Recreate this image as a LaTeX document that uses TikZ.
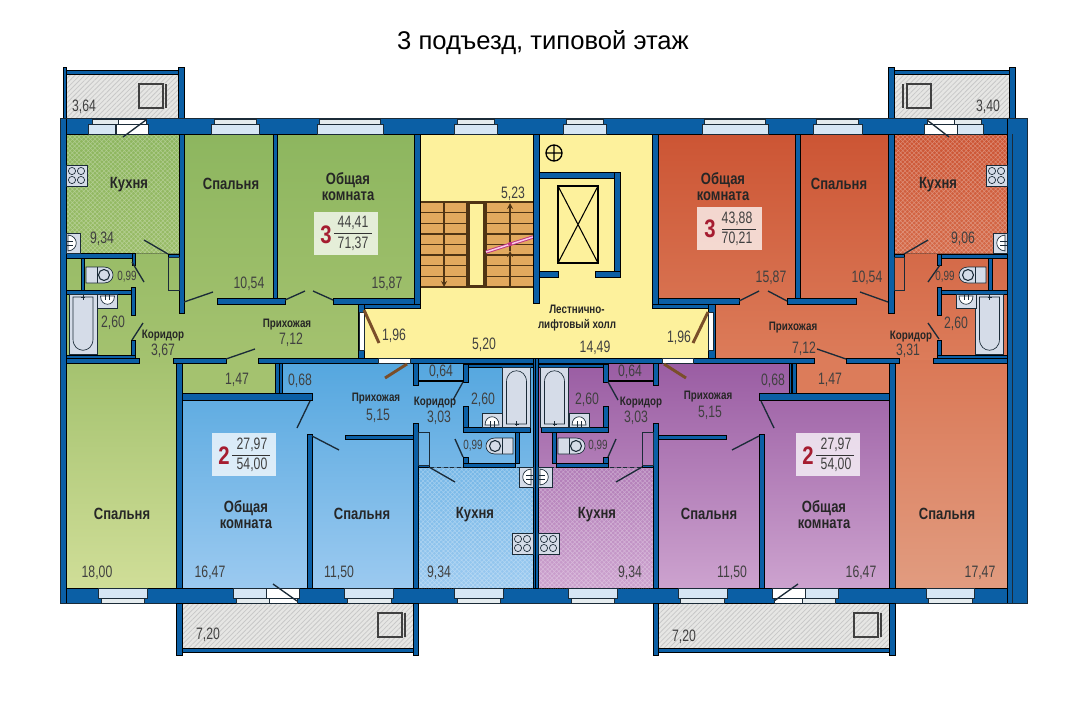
\documentclass[tikz,border=0pt]{standalone}
\usepackage{fontspec}
\setmainfont{Liberation Sans}
\newfontfamily\narrowfont[FakeStretch=0.8]{Liberation Sans}
\newfontfamily\areafont[FakeStretch=0.74]{Liberation Sans}
\usetikzlibrary{patterns.meta}
\definecolor{wallblue}{HTML}{0B5FA5}
\definecolor{linedark}{HTML}{1B2B38}
\definecolor{hallyellow}{HTML}{FDF19C}
\definecolor{stairorange}{HTML}{E2A95E}
\definecolor{stairbrown}{HTML}{4F3414}
\definecolor{doorbrown}{HTML}{7A4E2A}
\definecolor{glassblue}{HTML}{D6E6F4}
\definecolor{glassgray}{HTML}{E4EBEE}
\definecolor{fixturegray}{HTML}{D5DCE8}
\definecolor{balconygray}{HTML}{E6E6E4}
\definecolor{balconyline}{HTML}{C8C8C8}
\definecolor{flatred}{HTML}{A51C30}
\definecolor{greentop}{HTML}{8DB65F}
\definecolor{greenmid}{HTML}{A4C26F}
\definecolor{greenlow}{HTML}{D0DE98}
\definecolor{redtop}{HTML}{CC5534}
\definecolor{redmid}{HTML}{DC7C5A}
\definecolor{redlow}{HTML}{E19C80}
\definecolor{bluetop}{HTML}{55A7DF}
\definecolor{bluelow}{HTML}{9CCAF0}
\definecolor{violettop}{HTML}{9A5DA3}
\definecolor{violetlow}{HTML}{CDA3CF}
\tikzset{
  wall/.style={fill=wallblue},
  doorline/.style={draw=linedark, line width=1pt},
  brownleaf/.style={draw=doorbrown, line width=2.2pt},
  glass/.style={fill=glassblue, draw=linedark, line width=0.3pt},
  glasstop/.style={fill=glassgray, draw=linedark, line width=0.3pt},
  opening/.style={fill=white, draw=linedark, line width=0.3pt},
  fixture/.style={fill=fixturegray, draw=linedark, line width=0.5pt},
  kitchen/.style={opacity=0.3, pattern={Hatch[angle=45,distance=2.4pt,line width=0.4pt]}, pattern color=white},
  balcony/.style={preaction={fill=balconygray}, pattern={Lines[angle=45,distance=2.6pt,line width=0.6pt]}, pattern color=balconyline},
  room/.style={font=\narrowfont\bfseries\fontsize{12.2pt}{11.8pt}\selectfont, text=black!85, inner sep=0pt, align=center, yshift=-1pt},
  hallname/.style={font=\narrowfont\bfseries\fontsize{9.2pt}{11pt}\selectfont, text=black!85, inner sep=0pt, align=center},
  area/.style={font=\areafont\fontsize{12.4pt}{13pt}\selectfont, text=black!75, inner sep=0pt},
  smallarea/.style={font=\areafont\fontsize{10pt}{12pt}\selectfont, text=black!75, inner sep=0pt},
  flatbox/.style={fill=white, fill opacity=0.75},
  flatnum/.style={font=\narrowfont\bfseries\fontsize{19pt}{20pt}\selectfont, text=flatred, inner sep=0pt},
  arrow/.style={draw=stairbrown, line width=1pt, ->, >=stealth}
}
% fixtures
\newcommand{\bathtub}[3]{\begin{scope}[shift={(#1,#2)},yscale=#3]
  \draw [fixture] (-14,0) rectangle (14,60);
  \draw [draw=linedark, line width=0.5pt] (-10,3) -- (-10,45) .. controls (-10,60) and (10,60) .. (10,45) -- (10,3) -- cycle;
  \draw [draw=linedark, line width=0.5pt] (0,1) -- (0,6) (-2,3) -- (2,3);
\end{scope}}
\newcommand{\toilet}[3]{\begin{scope}[shift={(#1,#2)},xscale=#3]
  \draw [fixture] (0,-8) -- (18,-8) .. controls (30,-8) and (30,8) .. (18,8) -- (0,8) -- cycle;
  \draw [draw=linedark, line width=0.5pt] (11,-8) -- (11,8);
  \draw [draw=linedark, line width=0.8pt, fill=fixturegray] (18,0) circle (5.5);
\end{scope}}
\newcommand{\washbasin}[3]{\begin{scope}[shift={(#1,#2)},yscale=#3]
  \draw [fixture] (-10,0) rectangle (10,14);
  \draw [fill=white, draw=linedark, line width=0.5pt] (-7,2) .. controls (-7,13) and (7,13) .. (7,2) -- cycle;
  \draw [draw=linedark, line width=0.5pt] (-2,0) -- (-2,6) (2,0) -- (2,6);
\end{scope}}
\newcommand{\cooker}[3]{\begin{scope}[shift={(#1,#2)},xscale=#3]
  \draw [fixture] (0,0) rectangle (21,21);
  \foreach \cx in {6,15} \foreach \cy in {6,15} \draw [draw=linedark, line width=0.5pt] (\cx,\cy) circle (3.6);
\end{scope}}
\newcommand{\kitchensink}[3]{\begin{scope}[shift={(#1,#2)},xscale=#3]
  \draw [fixture] (0,0) rectangle (14,20);
  \draw [fill=white, draw=linedark, line width=0.5pt] (2,2) .. controls (13,3) and (13,17) .. (2,18) -- cycle;
  \draw [draw=linedark, line width=0.5pt] (0,8) -- (7,8) (0,12) -- (7,12);
\end{scope}}
\newcommand{\planter}[3]{%
  \draw [draw=black!75, line width=0.9pt] (#1,#2) rectangle ++(24,24);
  \draw [draw=black!75, line width=0.9pt] (#3,#2) -- ++(0,24);
}
% lower half, drawn twice
\newcommand{\lowerhalf}{
  \draw [kitchen] (418,467) rectangle (533,588);
  \draw [draw=linedark, line width=0.3pt, densely dashed] (418,588) -- (418,467) -- (533,467);
  \draw [balcony] (182,603) rectangle (413,648);
  \foreach \xa/\ya/\xb/\yb in {176/363/182/588, 176/603/182/655, 182/648/413/652, 413/603/418/655,
    182/393/312/400, 275/363/279/393, 279.6/363/282/393, 307/434/312/588, 345/435/413/439,
    413/423/418/588, 413/363/418/385, 533/358/536/588, 463/364/468/382, 468/364/533/367,
    418/380/463/381, 463/406/468/432, 463/427/530/432, 515/432/519/463, 463/457/468/467,
    463/463/515/467, 418/465/429/467}
    \draw [wall] (\xa,\ya) rectangle (\xb,\yb);
  \draw [draw=linedark, line width=0.4pt] (418,432) rectangle (429,465);
  \foreach \xa/\xb/\xc/\xd in {233/266/236/269, 344/393/347/391, 454/503/457/500} {
    \draw [glass] (\xa,588) rectangle (\xb,598);
    \draw [glasstop] (\xc,598) rectangle (\xd,603);
  }
  \draw [opening] (266,588) rectangle (299,598);
  \draw [opening] (269,598) rectangle (297,603);
  \draw [doorline] (273,584) -- (297,601);
  \draw [doorline] (310,401) -- (297,428);
  \draw [doorline] (312,436) -- (339,450);
  \draw [doorline] (429,467) -- (455,482);
  \draw [doorline] (463,382) -- (453,400);
  \draw [doorline] (463,457) -- (455,439);
  \draw [brownleaf] (407,364) -- (385,378);
  \bathtub{516.5}{427}{-1}
  \washbasin{492}{427}{-1}
  \toilet{513}{446}{-1}
  \kitchensink{533}{467}{-1}
  \cooker{533}{533}{-1}
}
\begin{document}
\begin{tikzpicture}[x=0.75pt,y=-0.75pt]
\useasboundingbox (0,0) rectangle (1087,714);
\node (title) at (543,43) {\fontsize{19.2pt}{22pt}\selectfont 3 подъезд, типовой этаж};
% room colours
\shade [top color=greentop, bottom color=greenmid] (66,134) rectangle (416,360);
\shade [top color=greenmid, bottom color=greenlow] (66,360) rectangle (278,590);
\shade [top color=redtop, bottom color=redmid] (656,134) rectangle (1008,360);
\shade [top color=bluetop, bottom color=bluelow] (182,363) rectangle (535.5,590);
\shade [top color=violettop, bottom color=violetlow] (535.5,363) rectangle (889,590);
\shade [top color=redmid!90!redtop, bottom color=redlow] (892,360) rectangle (1008,590);
\fill [greenmid] (182,360) rectangle (278,393);
\fill [redmid] (793,360) rectangle (892,393);
\draw [fill=hallyellow, draw=linedark, line width=0.4pt] (420,134) -- (652,134) -- (652,307) -- (708,307) -- (708,358) -- (364,358) -- (364,307) -- (420,307) -- cycle;
% kitchens
\draw [kitchen] (66,134) rectangle (180,253);
\draw [kitchen] (894,134) rectangle (1007,253);
% balconies
\draw [balcony] (66,74) rectangle (178,118);
\draw [balcony] (894,74) rectangle (1009,118);
\draw [balcony] (658,603) rectangle (891,648);
\planter{139}{84}{166}
\planter{907}{84}{903}
% stairs
\fill [stairorange] (420,202) rectangle (533,287);
\foreach \i in {0,...,8} {
  \draw [draw=stairbrown, line width=1pt] (420,202+\i*10.62) -- (467,202+\i*10.62);
  \draw [draw=stairbrown, line width=1pt] (486,202+\i*10.62) -- (533,202+\i*10.62);
}
\draw [fill=hallyellow, draw=stairbrown, line width=1.2pt] (469,203) rectangle (484,286);
\draw [draw=stairbrown, line width=1pt] (467,202) rectangle (486,287);
\draw [arrow] (444,202) -- (444,287);
\draw [arrow] (510,287) -- (510,251);
\draw [arrow] (510,251) -- (510,203);
\draw [draw=magenta!75!black, double=magenta!20, line width=0.7pt, double distance=1.1pt] (486,252) -- (533,237);
\fill [magenta!75!black] (510,244) circle (2);
% lift
\draw [draw=black, line width=1pt] (558,186) rectangle (598,263);
\draw [draw=black, line width=0.8pt] (558,186) -- (598,263) (598,186) -- (558,263);
\draw [draw=black, line width=1pt] (554,153) circle (8) (546,153) -- (562,153) (554,145) -- (554,161);
% outer walls and partitions
\foreach \xa/\ya/\xb/\yb in {60/118/1027/134, 60/588/1027/603, 60/118/66/603, 1007/118/1027/603,
    63/67/66/118, 178/67/184/118, 66/70/178/74, 888/67/894/118, 1009/67/1015/118, 894/70/1009/74,
    179/134/184/313, 273/134/277/298, 217/298/285/304, 333/298/415/304, 414/134/420/308, 358/304/420/308,
    358/304/364/358, 66/358/139/363, 173/358/226/363, 258/358/378/363, 410/358/662/363, 693/358/814/363,
    846/358/899/363, 933/358/1007/363, 66/253/135/258, 132/253/135/265, 81/258/84/290, 66/290/135/294,
    131/287/135/315, 131/340/135/358, 66/355/135/358, 168/254/179/257,
    533/134/539/303, 539/172/620/178, 614/172/620/277, 539/271/558/277, 595/271/620/277,
    652/134/658/308, 652/304/715/308, 658/298/739/304, 787/298/856/304, 708/304/715/358, 795/134/800/298,
    888/134/894/313, 894/254/904/257, 937/254/1007/258, 937/254/941/265, 988/258/992/290, 937/290/1007/294,
    937/287/941/315, 937/340/941/358, 937/355/1007/358}
    \draw [wall] (\xa,\ya) rectangle (\xb,\yb);
\draw [draw=linedark, line width=0.4pt] (60,118) -- (1027,118) -- (1027,603) -- (60,603) -- cycle;
\draw [draw=linedark, line width=0.4pt] (1012,134) -- (1012,603);
\draw [draw=linedark, line width=0.4pt] (168,257) rectangle (179,290);
\draw [draw=linedark, line width=0.4pt] (894,257) rectangle (904,290);
% white openings of the hall
\draw [opening] (359,312) rectangle (364,350);
\draw [opening] (708,312) rectangle (713,350);
\draw [opening] (378,358) rectangle (410,363);
\draw [opening] (662,358) rectangle (693,363);
% windows
\foreach \xa/\xb/\xc/\xd in {88/115/92/118, 211/259/214/256, 317/383/319/380, 454/497/457/494, 563/606/566/603,
    702/768/704/765, 813/862/816/858, 957/983/954/981} {
  \draw [glass] (\xa,124) rectangle (\xb,134);
  \draw [glasstop] (\xc,119) rectangle (\xd,124);
}
\foreach \xa/\xb/\xc/\xd in {98/147/101/144, 926/974/928/972} {
  \draw [glass] (\xa,588) rectangle (\xb,598);
  \draw [glasstop] (\xc,598) rectangle (\xd,603);
}
\draw [opening] (116,124) rectangle (148,134);
\draw [opening] (118,119) rectangle (146,124);
\draw [opening] (924,124) rectangle (957,134);
\draw [opening] (927,119) rectangle (954,124);
% doors
\draw [doorline] (146,120) -- (123,137);
\draw [doorline] (927,120) -- (949,137);
\draw [doorline] (168,254) -- (144,240);
\draw [doorline] (132,262) -- (144,282);
\draw [doorline] (132,340) -- (143,323);
\draw [doorline] (184,302) -- (213,292);
\draw [doorline] (285,300) -- (305,291);
\draw [doorline] (333,300) -- (313,291);
\draw [doorline] (226,359) -- (255,349);
\draw [doorline] (739,301) -- (759,291);
\draw [doorline] (787,301) -- (768,291);
\draw [doorline] (888,302) -- (860,292);
\draw [doorline] (904,254) -- (928,240);
\draw [doorline] (940,265) -- (928,282);
\draw [doorline] (939,339) -- (928,323);
\draw [doorline] (846,359) -- (817,349);
\draw [brownleaf] (364,310) -- (379,343);
\draw [brownleaf] (708,312) -- (693,343);
% fixtures upper flats
\bathtub{83}{294}{1}
\washbasin{107.5}{294}{1}
\toilet{86}{275}{1}
\cooker{66}{165}{1}
\kitchensink{66}{233}{1}
\bathtub{989.5}{294}{1}
\washbasin{966}{294}{1}
\toilet{986}{275}{-1}
\cooker{1007}{165}{-1}
\kitchensink{1007}{233}{-1}
% lower flats
\lowerhalf
\begin{scope}[shift={(1071,0)},xscale=-1]
\lowerhalf
\end{scope}
\planter{378}{613}{405}
\planter{854}{613}{881}
% flat boxes
\fill [flatbox] (314,212) rectangle (378,255);
\fill [flatbox] (697,207) rectangle (762,250);
\fill [flatbox] (212,433) rectangle (276,476);
\fill [flatbox] (796,433) rectangle (860,476);
\draw [draw=black!80, line width=0.7pt] (334,233) -- (372,233);
\draw [draw=black!80, line width=0.7pt] (722,229) -- (756,229);
\draw [draw=black!80, line width=0.7pt] (232,455) -- (270,455);
\draw [draw=black!80, line width=0.7pt] (816,455) -- (854,455);
% green flat
\node (1) [room] at (129,183) {Кухня};
\node (2) [room] at (231,183) {Спальня};
\node (3) [room] at (348,185) {Общая\\комната};
\node (4) [flatnum] at (326,235) {3};
\node (5) [area] at (353,223) {44,41};
\node (6) [area] at (353,244) {71,37};
\node (7) [area] at (102,239) {9,34};
\node (8) [smallarea] at (127,277) {0,99};
\node (9) [area] at (249,284) {10,54};
\node (10) [area] at (387,284) {15,87};
\node (11) [hallname] at (287,325) {Прихожая};
\node (12) [area] at (291,340) {7,12};
\node (13) [area] at (113,323) {2,60};
\node (14) [hallname] at (163,336) {Коридор};
\node (15) [area] at (163,351) {3,67};
\node (16) [area] at (237,380) {1,47};
\node (17) [room] at (122,513) {Спальня};
\node (18) [area] at (97,573) {18,00};
% hall
\node (19) [area] at (513,194) {5,23};
\node (20) [hallname] at (577,318) {Лестнично-\\лифтовый холл};
\node (21) [area] at (394,336) {1,96};
\node (22) [area] at (484,345) {5,20};
\node (23) [area] at (595,348) {14,49};
\node (24) [area] at (679,338) {1,96};
% red flat
\node (25) [room] at (938,183) {Кухня};
\node (26) [room] at (839,183) {Спальня};
\node (27) [room] at (723,185) {Общая\\комната};
\node (28) [flatnum] at (710,229) {3};
\node (29) [area] at (737,219) {43,88};
\node (30) [area] at (737,239) {70,21};
\node (31) [area] at (771,278) {15,87};
\node (32) [area] at (867,278) {10,54};
\node (33) [area] at (963,239) {9,06};
\node (34) [smallarea] at (945,277) {0,99};
\node (35) [hallname] at (793,328) {Прихожая};
\node (36) [area] at (804,349) {7,12};
\node (37) [area] at (956,324) {2,60};
\node (38) [hallname] at (911,337) {Коридор};
\node (39) [area] at (908,351) {3,31};
\node (40) [area] at (830,380) {1,47};
\node (41) [room] at (947,513) {Спальня};
\node (42) [area] at (980,573) {17,47};
% blue flat
\node (43) [area] at (300,381) {0,68};
\node (44) [hallname] at (376,399) {Прихожая};
\node (45) [area] at (378,416) {5,15};
\node (46) [hallname] at (435,403) {Коридор};
\node (47) [area] at (439,418) {3,03};
\node (48) [area] at (441,372) {0,64};
\node (49) [area] at (483,400) {2,60};
\node (50) [smallarea] at (473,446) {0,99};
\node (51) [flatnum] at (224,456) {2};
\node (52) [area] at (252,445) {27,97};
\node (53) [area] at (252,465) {54,00};
\node (54) [room] at (246,513) {Общая\\комната};
\node (55) [room] at (362,513) {Спальня};
\node (56) [room] at (475,513) {Кухня};
\node (57) [area] at (210,573) {16,47};
\node (58) [area] at (339,573) {11,50};
\node (59) [area] at (439,573) {9,34};
\node (60) [area] at (208,635) {7,20};
% violet flat
\node (61) [area] at (773,381) {0,68};
\node (62) [hallname] at (708,397) {Прихожая};
\node (63) [area] at (710,413) {5,15};
\node (64) [hallname] at (641,403) {Коридор};
\node (65) [area] at (636,418) {3,03};
\node (66) [area] at (630,372) {0,64};
\node (67) [area] at (587,400) {2,60};
\node (68) [smallarea] at (598,446) {0,99};
\node (69) [flatnum] at (808,456) {2};
\node (70) [area] at (836,445) {27,97};
\node (71) [area] at (836,465) {54,00};
\node (72) [room] at (824,513) {Общая\\комната};
\node (73) [room] at (709,513) {Спальня};
\node (74) [room] at (597,513) {Кухня};
\node (75) [area] at (861,573) {16,47};
\node (76) [area] at (732,573) {11,50};
\node (77) [area] at (630,573) {9,34};
\node (78) [area] at (684,637) {7,20};
% balconies
\node (79) [area] at (84,107) {3,64};
\node (80) [area] at (988,107) {3,40};
\end{tikzpicture}
\end{document}
